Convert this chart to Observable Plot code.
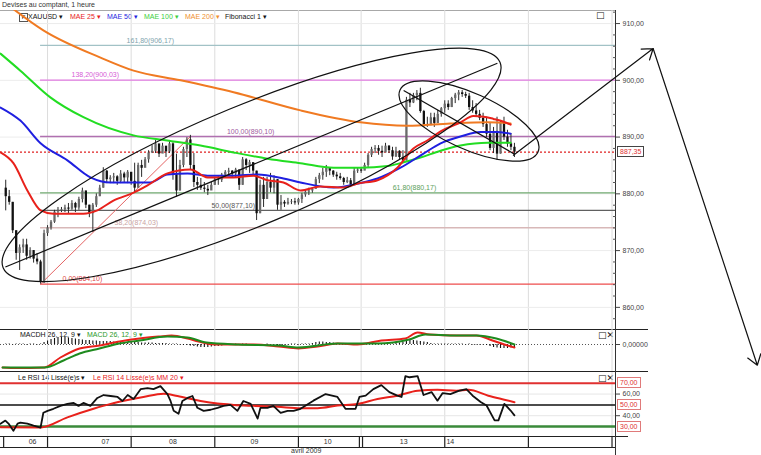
<!DOCTYPE html>
<html><head><meta charset="utf-8">
<script src="https://cdn.jsdelivr.net/npm/d3@7"></script>
<script src="https://cdn.jsdelivr.net/npm/@observablehq/plot@0.6"></script>
<style>
html,body{margin:0;padding:0;background:#fff;overflow:hidden;}
#wrap{position:relative;width:761px;height:455px;overflow:hidden;font-family:"Liberation Sans",Arial,sans-serif;}
#wrap svg{position:absolute;left:0;}
.hl{position:absolute;height:1px;background:#222;}
.vl{position:absolute;width:1px;background:#222;}
.lg{position:absolute;font-size:7px;white-space:nowrap;line-height:8px;}
.ic{position:absolute;font-size:9px;line-height:9px;font-family:"DejaVu Sans",sans-serif;color:#111;}
.box{position:absolute;font-size:7px;line-height:9px;padding:0 2px;background:#fff;white-space:nowrap;}
</style></head><body><div id="wrap"></div>
<script>
// ---------- DATA ----------
const xDomain = [10.5, 187];             // hour slots (weekend removed)
const dayBounds = [24, 48, 72, 96, 114, 138, 162, 186];
const timeSeps = [11.4, 24, 48, 72, 96, 113.5, 114.4, 138, 162, 186];
const dayNames = ["06", "07", "08", "09", "10", "13", "14"];
const daySlots = [19.7, 40.6, 60, 83.4, 104.4, 126.2, 139.6];

const barStart = 12;
const firstOpen = 881;
const barHigh = [882.4,880.6,878.5,873.5,871,872,872,870.5,870,869.5,868.3,873.6,874.4,875.3,877.1,877.6,877.6,878,878.3,878.8,878.5,879.4,881,880.5,878,878.3,880,881.5,884.6,884.1,883.2,883.6,883.2,884.1,883.8,884.1,883.2,885.4,885.4,885.9,886.4,887.6,888.5,889.4,888.2,888.9,888.2,889.4,889,887,885.9,888.2,889.9,890.3,887.1,882.9,882.7,882,881.5,882,882.9,883.2,883.6,884.1,884.5,884.1,884.5,883.6,886.4,886.2,885.9,885.4,884,882.4,882.9,882.9,883.6,883.2,882.5,879.7,878.8,879.2,879,879.2,879.2,880.1,880.6,881,881.1,882.9,883.6,884.5,885,884.6,884.1,883.8,883.6,882.9,882.9,882.7,884.6,884.6,884.6,885.4,887.1,888.2,888.5,888.5,888.4,888.9,888.5,888.2,888.2,887.6,887.6,897,897.7,897.7,898.2,898.6,894.7,893.5,894.2,894.2,894.7,895.2,896.4,896.4,897,897.7,898.2,898.2,897.9,897.7,896.4,895.9,894.7,894.2,893.5,892.4,891.7,893.5,892.9,893.5,891.2,890.6,888.9];
const barLow = [877,878,873,868.3,866.5,869.5,868.3,868.5,867.8,867.5,864.1,864.2,872.5,873.6,874.8,875.8,876.7,876.7,876.5,877.1,876.7,877.1,878.4,877.4,875.8,873.2,877.6,879.5,881,881.8,881.8,881.8,881.5,881.8,882,881.8,881.5,880.2,881,882.9,884.6,885.4,887.1,887.1,886.4,887.3,886.4,887.1,882.4,879.4,880.5,884.6,886.4,884.1,881.1,880.6,880.6,880.2,879.7,880.6,881.5,881.5,882,882.7,883.1,882.9,882.7,880.6,881.5,884.1,883.6,883.2,875.3,876.5,877.6,879,880.2,880,877.1,877.1,877.6,878,878.1,878,878,878.3,879.4,879.7,880.1,880.8,881.8,882.4,882.9,883.2,882.9,882.4,882.4,881.5,881.8,881.1,881.5,883.6,883.6,884.1,884.6,886.4,887.1,886.8,886.4,887.3,887.1,885.9,886.4,885.9,885.4,885.8,895.2,895.9,896.4,894.2,891.7,891.7,892.4,891.7,892.4,893.5,894.2,894.7,895.2,895.9,896.4,897,896.8,894.7,894.2,893.5,892.9,891.7,889.9,887.6,887.1,885.9,887,889.4,888.2,887.6,886.4];
const barClose = [879.5,878.5,873.5,869.5,870.5,871,869,870,868.5,868,864.5,873,874,875,876.8,877,877.2,877.5,877.3,878.3,877.5,879,880.5,878,876.5,878,879.5,881,884,882.5,882.8,883,882.2,883.5,882.8,883.8,882.2,881,885,884.5,886,887.2,887.5,888.8,887,888.4,887.4,888.8,883.5,880.5,885,887.8,889.5,885,882,881.5,881,880.8,880.5,881.5,882.5,882.4,883.3,883.8,884,883.5,884.2,881.5,886,885,885.5,884,876.5,881.5,879,882,881,882.5,878,878.5,878.2,878.5,878.6,878.4,879,879.8,880.3,880.5,880.8,882.5,883.2,883.8,884.5,884,883.3,883,882.7,882,882.3,881.5,884,884.2,884,885,886.8,887.8,888,887.5,887.2,888.4,887.6,886.5,887.5,886.4,885.8,896.5,896,897.3,897.7,894.5,892.2,892,893.4,892.4,894,895,895.8,895.2,896.8,897.4,897.8,897.5,897.2,895.2,894.6,894,893.3,892.2,890.5,888,891,887,892.5,890,888.8,888.2,887.35];
const lastPrice = 887.35;

const mae25Slot = [10.5,14.2,18.2,22,25.7,34.3,38.3,42.9,48.7,52.7,58.4,65,69.9,77.4,83.1,87.1,91.7,96.6,102.3,108.9,113,118.7,124.4,129,133,136.8,142.5,146.2,149.1,152,154.9,156.9];
const mae25Val = [887.3,885.4,880.6,877.1,876.5,876.5,877.1,878.8,880.2,881.5,883.6,884.3,882.9,882.9,883.2,882.4,882.0,880.6,881.3,881.1,881.8,882.4,884.6,888.0,889.4,891.0,892.6,893.7,893.6,893.2,892.7,892.2];
const mae50Slot = [10.5,16.2,22,29.7,36.3,42.1,53.5,58.4,64.2,69.9,77.4,84.3,91.7,96.6,106.1,113,118.7,125.3,131.9,136.8,142.5,148.3,153.1,156.9];
const mae50Val = [895.2,892.9,888.9,885.9,882.9,882.0,882.0,883.4,883.6,883.2,883.2,883.4,882.7,882.0,881.1,881.8,882.7,884.6,887.1,888.9,890.1,890.9,890.9,890.6];
const mae100Slot = [10.5,16.2,24.8,34.3,48.7,58.4,67.9,77.4,87.1,96.6,106.1,113.8,121.6,125.3,131,136.8,142.5,150.3,156.9];
const mae100Val = [904.7,901.7,897.0,893.5,890.3,889.4,888.5,887.3,886.2,885.4,884.6,884.6,884.9,885.4,886.4,887.6,888.5,889.0,889.0];
const mae200Slot = [12.8,22.8,39.2,48.7,62.2,77.4,96.6,113.8,127.3,139.6,150.3,156.9];
const mae200Val = [913.2,908.8,904.0,901.7,900.0,897.9,894.7,892.6,892.0,892.4,892.6,892.4];

const fibPct = [161.8, 138.2, 100, 61.8, 50, 38.2, 0];
const fibVal = [906.17, 900.03, 890.10, 880.17, 877.10, 874.03, 864.10];
const fibLine = ["#a2c2c6", "#e07ae0", "#b070b0", "#70aa70", "#606060", "#d8b8b8", "#ee4c4c"];
const fibText = ["#7ea3ad", "#d65cd6", "#a05aa0", "#5aa05a", "#555555", "#c9a3a3", "#e04848"];
const fibLabelSlot = [53.5, 37.7, 82.3, 129.3, 77.3, 49.5, 34];
const fibStartSlot = 22;
const fibTrend = [{x1: 22, y1: 864.10, x2: 65, y2: 890.10}];

const ellipses = [
  {x1: 11.4, y1: 866.9, x2: 154.0, y2: 903.1, ratio: 0.223},
  {x1: 125.3, y1: 898.2, x2: 164.9, y2: 887.3, ratio: 0.37}
];
const chords = [
  {x1: 11.9, y1: 867.1, x2: 153.1, y2: 903.0},
  {x1: 126.2, y1: 898.2, x2: 158.0, y2: 887.0}
];
const arrows = [
  {x1: 157.7, y1: 886.8, x2: 197.8, y2: 905.6},
  {x1: 197.8, y1: 905.6, x2: 227.7, y2: 849.8}
];
const priceTicks = [860, 870, 880, 890, 900, 910];
const priceMinor = [858, 862, 864, 866, 868, 872, 874, 876, 878, 882, 884, 886, 888, 892, 894, 896, 898, 902, 904, 906, 908, 912];

const macdSlot = [11.1,15.1,23.1,27.7,33.2,38.9,44.7,50.4,56.1,59.6,64.2,67.3,71.9,78.8,83.4,90.3,96,101.5,107.2,113,119.8,126.7,130.2,133.6,141.4,147.1,151.7,155.1,158];
const macdVal = [-2.3,-2.35,-2.3,-1.3,-0.4,-0.1,0.3,0.6,0.8,0.9,0.6,0.3,0,0,0,-0.2,-0.4,-0.2,0.1,0,0.4,0.6,1.2,1.0,0.9,0.9,0.4,0,-0.3];
const signalSlot = [11.1,23.1,28.6,33.2,38.9,44.6,50.4,58.4,64.1,69.6,78.8,90.2,96,107.2,118.6,127.8,132.4,141.3,147.1,152.8,158];
const signalVal = [-2.3,-2.3,-1.6,-0.9,-0.4,0.1,0.4,0.8,0.7,0.2,0,-0.1,-0.3,0.1,0.1,0.5,1.0,0.9,0.9,0.6,0];
const histStart = 12;
const histVal = [0.05,0.05,-0.05,0.05,0.05,0.05,-0.05,0.05,0.05,-0.05,0.05,
  0.2,0.35,0.5,0.6,0.7,0.7,0.7,0.65,0.6,0.55,
  0.5,0.45,0.4,0.4,0.35,0.35,0.3,0.3,
  0.3,0.3,0.25,0.25,0.25,0.2,0.2,0.2,0.2,0.2,0.15,0.15,
  0.15,0.15,0.1,0.1,0.1,0.1,0.05,0.05,
  0.05,-0.05,-0.1,-0.1,-0.15,-0.2,
  -0.25,-0.3,-0.3,-0.3,-0.25,-0.2,-0.2,-0.15,-0.1,
  -0.05,-0.05,0.05,-0.05,0.05,0.05,-0.05,-0.05,-0.1,-0.1,-0.05,0.05,-0.05,-0.05,-0.1,-0.1,-0.05,-0.05,0.05,0.05,-0.05,0.05,0.05,0.05,
  0.1,0.2,0.25,0.25,0.2,0.2,0.15,0.1,0.05,
  0.05,0.05,0.1,0.1,0.05,0.1,0.1,0.15,0.1,0.1,0.05,0.05,0.05,0.05,0.05,0.1,0.15,
  0.2,0.3,0.4,0.4,0.35,0.3,0.25,0.2,0.1,
  0.05,0.05,0.05,0.05,0.05,0.05,0.05,0.05,0.05,-0.05,0.05,-0.05,-0.05,-0.05,-0.05,
  -0.1,-0.2,-0.3,-0.35,-0.4,-0.4,-0.4,-0.35,-0.3];

const rsiSlot = [10.5,11.9,12.8,14.2,15.4,16.2,18.2,20,22,22.8,24,25.7,27.7,29.7,31.5,32.9,34.3,36.3,38.3,40.1,42.1,44.1,45.5,47,48.7,50.7,52.7,54.4,56.4,58.4,59.3,60.2,61.6,62.7,64.2,65.6,67,68.8,70.8,72.8,74.5,76.5,78.5,80.2,82.3,84.3,85.1,87.1,88.8,90.9,92.9,94.6,96.6,100.3,103.8,107.2,109.5,112.4,113.5,115.3,117.5,119.8,122.1,124.4,125.6,126.7,127.9,130.2,131.9,134.2,135.9,137.4,139.6,142,144.2,146,148.3,150,152.3,153.4,155.1,156.9,158];
const rsiVal = [32.5,35.5,32.7,26,32.7,33.6,32.7,30.9,29.1,42.7,44.5,46.4,49.1,50.9,51.8,49.1,51.8,49.1,56.4,59.1,58.2,57.3,53.6,59.1,55.5,64.5,65.5,64.5,67.3,60,53.6,44.5,41.8,53.6,56.4,58.2,47.3,44.5,45.5,47.3,49.1,50,44.5,53.6,50.9,37.3,47.3,47.3,49.1,42.7,44.5,44.5,46.4,53.9,60,57.3,46.4,46.4,57.3,58.5,64.5,68.2,61.8,58.5,57.3,76.6,75.5,76.6,59.1,61.8,53.9,60.9,60,63,64.5,58.5,52.7,49.4,35.7,35.7,50.9,44.8,40.3];
const rsiMaSlot = [10.5,22,29.7,37.2,42.1,47,51.5,57.3,61.3,67.9,72.8,77.4,83.1,90,96.6,101.5,107.2,113,118.7,124.4,130.2,135.9,141.4,144.8,150.5,155.1,158];
const rsiMaVal = [29.4,29.1,38.5,46.4,50.9,54.5,57.3,60.3,58.2,53.6,51.2,50,49.1,48.2,47,47,49.4,50.9,55.5,58.5,63,63.9,63,63.9,58.5,54.8,52.5];
const rsiLevels = [70, 50, 30];
const rsiTicks = [60, 40];

// ---------- TABLES ----------
const bars = barClose.map((c, i) => ({s: barStart + i, high: barHigh[i], low: barLow[i], close: c, open: i ? barClose[i - 1] : firstOpen}));
const zip = (xs, ys) => xs.map((s, i) => ({s, v: ys[i]}));
const fib = fibVal.map((v, i) => ({v, x1: fibStartSlot, x2: xDomain[1], ls: fibLabelSlot[i], line: fibLine[i], tc: fibText[i],
  label: fibPct[i].toFixed(2).replace(".", ",") + "(" + v.toFixed(2).replace(".", ",") + ")"}));
const hist = histVal.map((v, i) => ({s: histStart + i, v}));
const fmt2 = d => d.toFixed(2).replace(".", ",");

const baseStyle = {fontFamily: "Liberation Sans, Arial, sans-serif", fontSize: "7px", background: "transparent", overflow: "visible", color: "#333"};
const common = {width: 761, marginLeft: 0, marginRight: 146, marginTop: 0, marginBottom: 0, style: baseStyle};

function ellipseMark(defs) {
  return (index, scales) => {
    const g = d3.create("svg:g").attr("fill", "none").attr("stroke", "#111").attr("stroke-width", 1.2);
    for (const e of defs) {
      const ax = scales.x(e.x1), ay = scales.y(e.y1), bx = scales.x(e.x2), by = scales.y(e.y2);
      const cx = (ax + bx) / 2, cy = (ay + by) / 2, a = Math.hypot(bx - ax, by - ay) / 2;
      const th = Math.atan2(by - ay, bx - ax) * 180 / Math.PI;
      g.append("ellipse").attr("cx", cx).attr("cy", cy).attr("rx", a).attr("ry", a * e.ratio)
        .attr("transform", `rotate(${th} ${cx} ${cy})`);
    }
    return g.node();
  };
}

const wrap = document.getElementById("wrap");

// ---------- MAIN ----------
const main = Plot.plot({
  ...common, height: 319,
  x: {domain: xDomain, axis: null},
  y: {domain: [856.1, 912.3], axis: null},
  marks: [
    Plot.ruleX(dayBounds, {stroke: "#dcdcdc"}),
    Plot.ruleY(priceTicks, {stroke: "#ececec"}),
    Plot.ruleY(fib, {y: "v", x1: "x1", x2: "x2", stroke: "line", strokeWidth: 1.3}),
    Plot.ruleY([lastPrice], {stroke: "#e02020", strokeWidth: 1.3, strokeDasharray: "2,2"}),
    Plot.text(fib, {x: "ls", y: "v", text: "label", fill: "tc", dy: -5, fontSize: 7}),
    Plot.link(fibTrend, {x1: "x1", y1: "y1", x2: "x2", y2: "y2", stroke: "#e46464", strokeWidth: 1}),
    Plot.ruleX(bars, {x: "s", y1: "low", y2: "high", stroke: "#2a2a2a", strokeWidth: 1}),
    Plot.ruleX(bars, {x: "s", y1: "open", y2: "close", stroke: d => d.close >= d.open ? "#6a6a6a" : "#111", strokeWidth: 2.3}),
    Plot.line(zip(mae200Slot, mae200Val), {x: "s", y: "v", stroke: "#f07a22", strokeWidth: 2, curve: "monotone-x", clip: true}),
    Plot.line(zip(mae100Slot, mae100Val), {x: "s", y: "v", stroke: "#22dd22", strokeWidth: 2, curve: "monotone-x"}),
    Plot.line(zip(mae50Slot, mae50Val), {x: "s", y: "v", stroke: "#1f1fe0", strokeWidth: 2, curve: "monotone-x"}),
    Plot.line(zip(mae25Slot, mae25Val), {x: "s", y: "v", stroke: "#e8211b", strokeWidth: 2, curve: "monotone-x"}),
    ellipseMark(ellipses),
    Plot.link(chords, {x1: "x1", y1: "y1", x2: "x2", y2: "y2", stroke: "#111", strokeWidth: 1.2}),
    Plot.arrow(arrows, {x1: "x1", y1: "y1", x2: "x2", y2: "y2", stroke: "#111", strokeWidth: 1.2, headLength: 15, headAngle: 70}),
    Plot.axisY({anchor: "right", ticks: priceMinor, tickSize: 3, dx: -3, text: null, label: null, color: "#555"}),
    Plot.axisY({anchor: "right", ticks: priceTicks, tickFormat: fmt2, tickSize: 4, tickPadding: 3, label: null, color: "#444"})
  ]
});
main.style.top = "10px"; main.style.zIndex = 3;

// ---------- MACD ----------
const macd = Plot.plot({
  ...common, height: 42,
  x: {domain: xDomain, axis: null},
  y: {domain: [-2.7, 1.5], axis: null},
  marks: [
    Plot.ruleX(dayBounds, {stroke: "#dcdcdc"}),
    Plot.ruleY([0], {stroke: "#555", strokeDasharray: "1,2"}),
    Plot.ruleX(hist, {x: "s", y1: 0, y2: "v", stroke: "#111", strokeWidth: 1.1}),
    Plot.line(zip(macdSlot, macdVal), {x: "s", y: "v", stroke: "#e8211b", strokeWidth: 2, curve: "monotone-x"}),
    Plot.line(zip(signalSlot, signalVal), {x: "s", y: "v", stroke: "#1e8a1e", strokeWidth: 2, curve: "monotone-x"}),
    Plot.axisY({anchor: "right", ticks: [0], tickFormat: () => "0,00000", tickSize: 4, tickPadding: 3, label: null, color: "#444"})
  ]
});
macd.style.top = "329px"; macd.style.zIndex = 1;

// ---------- RSI ----------
const rsi = Plot.plot({
  ...common, height: 64,
  x: {domain: xDomain, axis: null},
  y: {domain: [20.8, 79.9], axis: null},
  marks: [
    Plot.ruleX(dayBounds, {stroke: "#dcdcdc"}),
    Plot.ruleY(rsiTicks, {stroke: "#e6e6e6"}),
    Plot.ruleY([rsiLevels[0]], {stroke: "#e03030", strokeWidth: 2}),
    Plot.ruleY([rsiLevels[1]], {stroke: "#111", strokeWidth: 1.5}),
    Plot.ruleY([rsiLevels[2]], {stroke: "#3a8a3a", strokeWidth: 2.5}),
    Plot.line(zip(rsiMaSlot, rsiMaVal), {x: "s", y: "v", stroke: "#e8211b", strokeWidth: 2, curve: "monotone-x"}),
    Plot.line(zip(rsiSlot, rsiVal), {x: "s", y: "v", stroke: "#111", strokeWidth: 1.8}),
    Plot.axisY({anchor: "right", ticks: rsiTicks, tickFormat: fmt2, tickSize: 4, tickPadding: 3, label: null, color: "#444"})
  ]
});
rsi.style.top = "372px"; rsi.style.zIndex = 1;

// ---------- TIME BAND ----------
const tb = Plot.plot({
  ...common, height: 11,
  x: {domain: xDomain, axis: null},
  marks: [
    Plot.ruleX(timeSeps, {stroke: "#222", strokeWidth: 1.2}),
    Plot.text(dayNames.map((d, i) => ({d, s: daySlots[i]})), {x: "s", text: "d", frameAnchor: "middle", fontSize: 7, fill: "#333"})
  ]
});
tb.style.top = "436px"; tb.style.zIndex = 1;

wrap.append(macd, rsi, tb, main);

// ---------- HTML decorations ----------
function add(cls, css, html) {
  const d = document.createElement("div");
  d.className = cls; Object.assign(d.style, css); if (html != null) d.innerHTML = html;
  wrap.appendChild(d); return d;
}
add("lg", {left: "2px", top: "1px", color: "#333"}, "Devises au comptant, 1 heure");
add("hl", {left: "0px", top: "10px", width: "615px", background: "#a8a8a8"});
add("hl", {left: "0px", top: "329px", width: "648px"});
add("hl", {left: "0px", top: "371px", width: "648px"});
add("hl", {left: "0px", top: "436px", width: "628px"});
add("hl", {left: "0px", top: "447px", width: "615px"});
add("vl", {left: "615px", top: "10px", height: "445px", background: "#333"});
add("lg", {left: "19px", top: "13px", width: "7px", height: "7px", border: "1px solid #555", fontSize: "6px", lineHeight: "7px", textAlign: "center", background: "rgba(255,255,255,0.6)"}, "F");
const legend = [["XAUUSD ▾", "#111", 28], ["MAE 25 ▾", "#e8211b", 70], ["MAE 50 ▾", "#1f1fe0", 107], ["MAE 100 ▾", "#3ccf3c", 144], ["MAE 200 ▾", "#f0902e", 185], ["Fibonacci 1 ▾", "#111", 225]];
for (const [t, c, x] of legend) add("lg", {left: x + "px", top: "13px", color: c}, t);
add("ic", {left: "596px", top: "11px"}, "□");
add("lg", {left: "20px", top: "331px", color: "#111"}, "MACDH 26, 12, 9 ▾");
add("lg", {left: "87px", top: "331px", color: "#2a9a2a"}, "MACD 26, 12, 9 ▾");
add("ic", {left: "598px", top: "331px"}, "□<b>✕</b>");
add("lg", {left: "18px", top: "374px", color: "#111"}, "Le RSI 14 Lissé(e)s ▾");
add("lg", {left: "93px", top: "374px", color: "#e8211b"}, "Le RSI 14 Lissé(e)s MM 20 ▾");
add("ic", {left: "598px", top: "374px"}, "□<b>✕</b>");
add("lg", {left: "291px", top: "447px", color: "#333"}, "avril 2009");

const yMain = main.scale("y"), yRsi = rsi.scale("y");
function valBox(yPix, text, color, border) {
  const b = add("box", {left: "617px", top: (yPix - 5.5) + "px", color, border: "1px solid " + border}, text);
  b.style.zIndex = 4;
}
valBox(10 + yMain.apply(lastPrice), fmt2(lastPrice), "#e03030", "#444");
for (const v of rsiLevels) valBox(372 + yRsi.apply(v), fmt2(v), "#e03030", "#e07a7a");
</script></body></html>
